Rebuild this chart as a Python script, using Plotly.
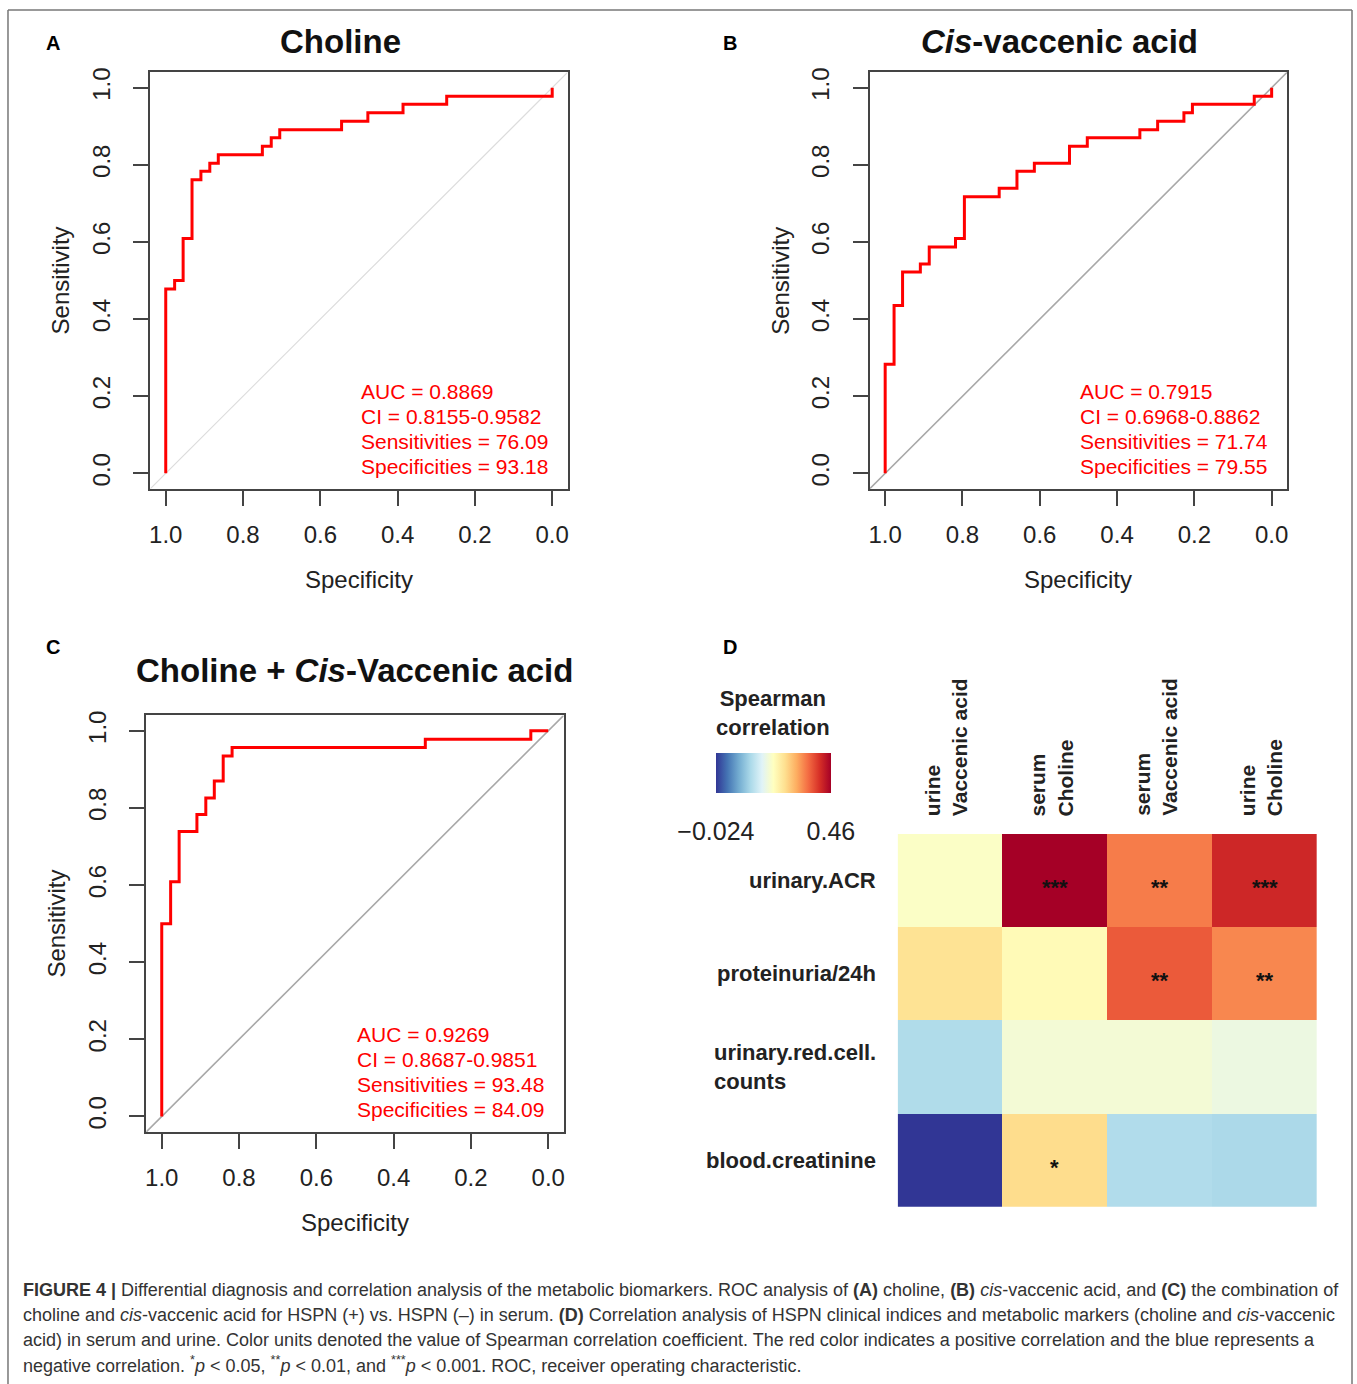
import plotly.graph_objects as go

W, H = 1357, 1384
FONT = "Liberation Sans, Arial, Helvetica, sans-serif"

# ---------------- data ----------------
# ROC step vertices (specificity, sensitivity)
choline_spec = [1.000, 1.000, 0.977, 0.955, 0.932, 0.909, 0.886, 0.864, 0.750, 0.727, 0.705, 0.545, 0.477, 0.386, 0.273, 0.000]
choline_sens = [0.000, 0.478, 0.500, 0.609, 0.761, 0.783, 0.804, 0.826, 0.848, 0.870, 0.891, 0.913, 0.935, 0.957, 0.978, 1.000]

cva_spec = [1.000, 1.000, 0.977, 0.955, 0.909, 0.886, 0.818, 0.795, 0.705, 0.659, 0.614, 0.523, 0.477, 0.341, 0.295, 0.227, 0.205, 0.045, 0.000]
cva_sens = [0.000, 0.283, 0.435, 0.522, 0.543, 0.587, 0.609, 0.717, 0.739, 0.783, 0.804, 0.848, 0.870, 0.891, 0.913, 0.935, 0.957, 0.978, 1.000]

combo_spec = [1.000, 1.000, 0.977, 0.955, 0.909, 0.886, 0.864, 0.841, 0.818, 0.318, 0.045, 0.000]
combo_sens = [0.000, 0.500, 0.609, 0.739, 0.783, 0.826, 0.870, 0.935, 0.957, 0.978, 1.000, 1.000]

choline_stats = ["AUC = 0.8869", "CI = 0.8155-0.9582", "Sensitivities = 76.09", "Specificities = 93.18"]
cva_stats = ["AUC = 0.7915", "CI = 0.6968-0.8862", "Sensitivities = 71.74", "Specificities = 79.55"]
combo_stats = ["AUC = 0.9269", "CI = 0.8687-0.9851", "Sensitivities = 93.48", "Specificities = 84.09"]

roc_ticks = [1.0, 0.8, 0.6, 0.4, 0.2, 0.0]
roc_ticktext = ["1.0", "0.8", "0.6", "0.4", "0.2", "0.0"]

# Spearman correlation heatmap
hm_cols = ["urine<br>Vaccenic acid", "serum<br>Choline", "serum<br>Vaccenic acid", "urine<br>Choline"]
hm_rows = ["urinary.ACR", "proteinuria/24h", "urinary.red.cell.<br>counts", "blood.creatinine"]
rho = [
    [0.212, 0.460, 0.352, 0.421],
    [0.262, 0.226, 0.378, 0.344],
    [0.126, 0.199, 0.199, 0.189],
    [-0.024, 0.269, 0.127, 0.122],
]
sig = [
    ["", "***", "**", "***"],
    ["", "", "**", "**"],
    ["", "", "", ""],
    ["", "*", "", ""],
]
rho_min, rho_max = -0.024, 0.46
legend_ticks = [-0.024, 0.46]
legend_ticktext = ["\u22120.024", "0.46"]

caption_lines = [
    "<b>FIGURE 4 |</b> Differential diagnosis and correlation analysis of the metabolic biomarkers. ROC analysis of <b>(A)</b> choline, <b>(B)</b> <i>cis</i>-vaccenic acid, and <b>(C)</b> the combination of",
    "choline and <i>cis</i>-vaccenic acid for HSPN (+) vs. HSPN (\u2013) in serum. <b>(D)</b> Correlation analysis of HSPN clinical indices and metabolic markers (choline and <i>cis</i>-vaccenic",
    "acid) in serum and urine. Color units denoted the value of Spearman correlation coefficient. The red color indicates a positive correlation and the blue represents a",
    "negative correlation. <sup>*</sup><i>p</i> &lt; 0.05, <sup>**</sup><i>p</i> &lt; 0.01, and <sup>***</sup><i>p</i> &lt; 0.001. ROC, receiver operating characteristic.",
]

# ---------------- helpers ----------------
def px(x):
    return x / W


def py(y):
    return 1 - y / H


RdYlBu_r = ["#313695", "#4575b4", "#74add1", "#abd9e9", "#e0f3f8", "#ffffbf",
            "#fee090", "#fdae61", "#f46d43", "#d73027", "#a50026"]
colorscale = [[i / (len(RdYlBu_r) - 1), c] for i, c in enumerate(RdYlBu_r)]

fig = go.Figure()

panels = [
    # (spec, sens, stats, axis suffix, box px (x0,x1,y0,y1), diag colour, diag width)
    (choline_spec, choline_sens, choline_stats, "", (149.5, 567.5, 67.5, 485.5), "#dcdcdc", 1.2),
    (cva_spec, cva_sens, cva_stats, "2", (870, 1288, 67.5, 485.5), "#a8a8a8", 1.6),
    (combo_spec, combo_sens, combo_stats, "3", (145.5, 563.5, 713, 1131), "#a8a8a8", 1.6),
]

layout_axes = {}
annotations = []
for spec, sens, stats, s, (bx0, bx1, by0, by1), dcol, dw in panels:
    xa, ya = "x" + s, "y" + s
    fig.add_trace(go.Scatter(x=[1.04, -0.04], y=[-0.04, 1.04], mode="lines",
                             line=dict(color=dcol, width=dw), xaxis=xa, yaxis=ya,
                             hoverinfo="skip", showlegend=False))
    fig.add_trace(go.Scatter(x=spec, y=sens, mode="lines", line=dict(color="#ff0000", width=3, shape="hv"),
                             xaxis=xa, yaxis=ya, showlegend=False))
    common = dict(showgrid=False, zeroline=False, showline=True, linecolor="#444", linewidth=2,
                  mirror=True, ticks="outside", ticklen=15, tickwidth=2, tickcolor="#444",
                  tickvals=roc_ticks, ticktext=roc_ticktext,
                  tickfont=dict(size=24, color="#222", family=FONT))
    layout_axes["xaxis" + s] = dict(common, domain=[px(bx0), px(bx1)], range=[1.04, -0.04],
                                    anchor=ya, ticklabelstandoff=8)
    layout_axes["yaxis" + s] = dict(common, domain=[py(by1), py(by0)], range=[-0.04, 1.04],
                                    anchor=xa, tickangle=-90, ticklabelstandoff=14)
    for i, line in enumerate(stats):
        annotations.append(dict(x=0.5, y=0.213 - i * 0.0653, xref=xa, yref=ya, text=line,
                                showarrow=False, xanchor="left", yanchor="middle",
                                font=dict(size=21, color="#ff0000", family=FONT)))
    cx = (bx0 + bx1) / 2
    cy = (by0 + by1) / 2
    annotations.append(dict(x=px(cx), y=py(by1 + 91), xref="paper", yref="paper", text="Specificity",
                            showarrow=False, xanchor="center", yanchor="middle",
                            font=dict(size=24, color="#222", family=FONT)))
    annotations.append(dict(x=px(bx0 - 89.5), y=py(cy), xref="paper", yref="paper", text="Sensitivity",
                            showarrow=False, xanchor="center", yanchor="middle", textangle=-90,
                            font=dict(size=24, color="#222", family=FONT)))

# ---------------- heatmap ----------------
fig.add_trace(go.Heatmap(
    z=rho, x=hm_cols, y=hm_rows, zmin=rho_min, zmax=rho_max, colorscale=colorscale,
    xaxis="x4", yaxis="y4", hoverongaps=False,
    colorbar=dict(orientation="h", x=px(773.5), xanchor="center", y=py(751), yanchor="top",
                  len=115, lenmode="pixels", thickness=40, thicknessmode="pixels",
                  outlinewidth=0, xpad=0, ypad=0,
                  tickvals=legend_ticks, ticktext=legend_ticktext, ticks="outside",
                  ticklen=17, tickcolor="rgba(0,0,0,0)",
                  tickfont=dict(size=25, color="#222", family=FONT)),
))
layout_axes["xaxis4"] = dict(domain=[px(898), px(1318)], anchor="y4", showticklabels=False,
                             ticks="", showgrid=False, zeroline=False, showline=False)
layout_axes["yaxis4"] = dict(domain=[py(1206), py(832)], anchor="x4", showticklabels=False,
                             ticks="", showgrid=False, zeroline=False, showline=False,
                             autorange="reversed")

for r, row in enumerate(hm_rows):
    annotations.append(dict(x=px(878), y=row, xref="paper", yref="y4", text="<b>%s</b>" % row,
                            showarrow=False, xanchor="right", yanchor="middle", align="left",
                            font=dict(size=22, color="#222", family=FONT)))
    for c, col in enumerate(hm_cols):
        if sig[r][c]:
            annotations.append(dict(x=col, y=row, xref="x4", yref="y4", text="<b>%s</b>" % sig[r][c],
                                    showarrow=False, xanchor="center", yanchor="middle", yshift=-7,
                                    font=dict(size=22, color="#111", family=FONT)))
for col in hm_cols:
    annotations.append(dict(x=col, y=py(816), xref="x4", yref="paper", text="<b>%s</b>" % col,
                            showarrow=False, xanchor="center", yanchor="bottom", align="left",
                            xshift=-4, textangle=-90, font=dict(size=21, color="#222", family=FONT)))

annotations.append(dict(x=px(773.5), y=py(711), xref="paper", yref="paper",
                        text="<b>Spearman<br>correlation</b>", showarrow=False,
                        xanchor="center", yanchor="middle",
                        font=dict(size=22, color="#222", family=FONT)))

# ---------------- titles & panel letters ----------------
for txt, x, y in [("A", 52, 38), ("B", 730, 38), ("C", 52, 644), ("D", 730, 644)]:
    annotations.append(dict(x=px(x), y=py(y), xref="paper", yref="paper", text="<b>%s</b>" % txt,
                            showarrow=False, xanchor="center", yanchor="middle",
                            font=dict(size=20, color="#000", family=FONT)))
for txt, x, y in [("Choline", 340, 37), ("<i>Cis</i>-vaccenic acid", 1060, 37),
                  ("Choline + <i>Cis</i>-Vaccenic acid", 354, 668)]:
    annotations.append(dict(x=px(x), y=py(y), xref="paper", yref="paper", text="<b>%s</b>" % txt,
                            showarrow=False, xanchor="center", yanchor="middle",
                            font=dict(size=33, color="#111", family=FONT)))

# ---------------- caption ----------------
for i, line in enumerate(caption_lines):
    annotations.append(dict(x=px(20), y=py(1290 + i * 24.8), xref="paper", yref="paper", text=line,
                            showarrow=False, xanchor="left", yanchor="middle",
                            font=dict(size=18, color="#333", family=FONT)))

shapes = [
    dict(type="line", xref="paper", yref="paper", x0=px(7), x1=px(7), y0=py(5), y1=0,
         line=dict(color="#777", width=1.5)),
    dict(type="line", xref="paper", yref="paper", x0=px(1353), x1=px(1353), y0=py(5), y1=0,
         line=dict(color="#777", width=1.5)),
    dict(type="line", xref="paper", yref="paper", x0=px(7), x1=px(1353), y0=py(5), y1=py(5),
         line=dict(color="#777", width=1.5)),
]

fig.update_layout(
    width=W, height=H, margin=dict(l=0, r=0, t=0, b=0),
    paper_bgcolor="white", plot_bgcolor="white",
    font=dict(family=FONT, color="#222"),
    annotations=annotations, shapes=shapes, showlegend=False,
    **layout_axes,
)

fig.write_html("out.html", config={"displayModeBar": False},
               post_script="document.body.style.margin='0';document.body.style.overflow='hidden';")
